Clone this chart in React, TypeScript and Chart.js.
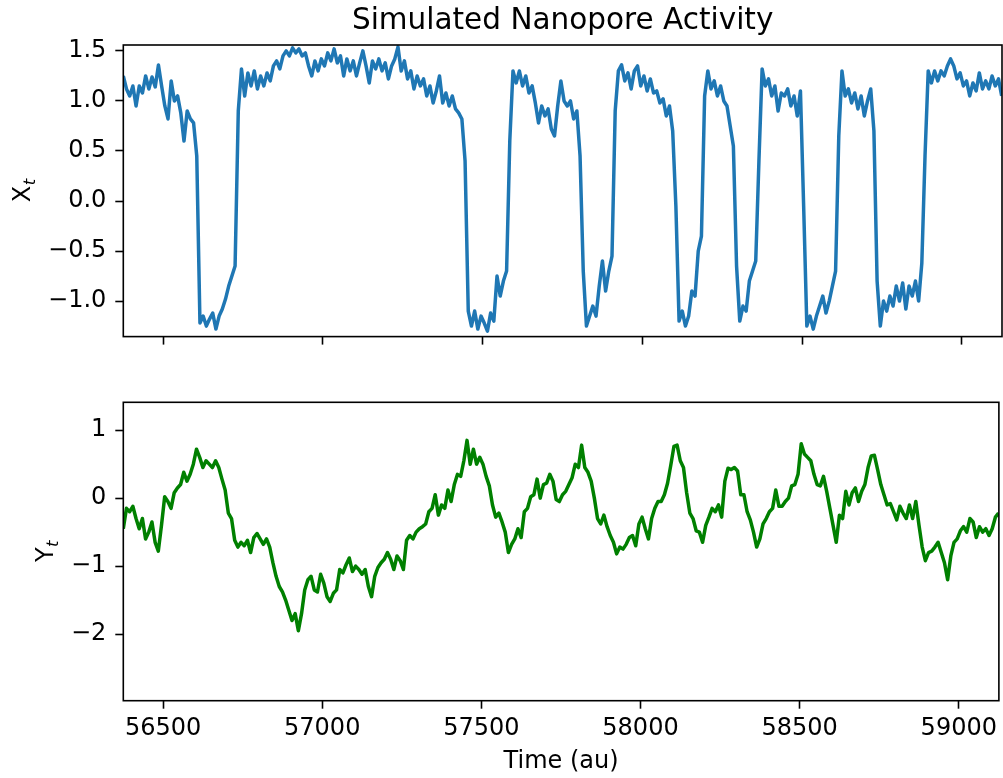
import { useEffect, useRef } from "react";
import { Chart, registerables } from "chart.js";

Chart.register(...registerables);

// ---- data ----
const timeStart = 56375;
const timeStep = 10;
const xRange = [56375, 59126];
const xTickValues = [56500, 57000, 57500, 58000, 58500, 59000];
const topYRange = [-1.355, 1.559];
const topYTicks = [-1.0, -0.5, 0.0, 0.5, 1.0, 1.5];
const bottomYRange = [-2.98, 1.41];
const bottomYTicks = [-2, -1, 0, 1];

const titleText = "Simulated Nanopore Activity";
const xAxisTitle = "Time (au)";

// X_t (blue)
const xSeries = [
  1.25, 1.12, 1.05, 1.15, 0.95, 1.15, 1.08, 1.25, 1.12, 1.24,
  1.14, 1.36, 1.15, 0.95, 0.82, 1.2, 1.0, 1.05, 0.88, 0.6,
  0.9, 0.82, 0.78, 0.45, -1.22, -1.15, -1.25, -1.18, -1.12, -1.28,
  -1.15, -1.08, -0.98, -0.85, -0.75, -0.65, 0.9, 1.32, 1.05, 1.28,
  1.15, 1.3, 1.12, 1.25, 1.15, 1.28, 1.2, 1.35, 1.4, 1.32,
  1.45, 1.5, 1.45, 1.53, 1.48, 1.52, 1.45, 1.48, 1.35, 1.25,
  1.4, 1.3, 1.42, 1.35, 1.48, 1.4, 1.52, 1.38, 1.45, 1.25,
  1.42, 1.3, 1.4, 1.25, 1.38, 1.5, 1.35, 1.18, 1.4, 1.32,
  1.42, 1.3, 1.38, 1.22, 1.35, 1.42, 1.54, 1.3, 1.4, 1.22,
  1.3, 1.12, 1.25, 1.15, 1.22, 1.05, 1.15, 0.98, 1.1, 1.25,
  0.98, 1.08, 0.95, 1.05, 0.92, 0.88, 0.82, 0.4, -1.1, -1.25,
  -1.1, -1.28, -1.15, -1.22, -1.3, -1.12, -1.2, -0.75, -0.95, -0.8,
  -0.7, 0.6, 1.3, 1.18, 1.3, 1.15, 1.25, 1.08, 1.15, 0.98,
  0.78, 0.95, 0.85, 0.92, 0.72, 0.65, 0.95, 1.2, 1.0, 0.95,
  1.0, 0.82, 0.9, 0.45, -0.7, -1.25, -1.15, -1.05, -1.15, -0.85,
  -0.6, -0.9, -0.7, -0.55, 0.9, 1.3, 1.36, 1.2, 1.28, 1.12,
  1.3, 1.35, 1.15, 1.25, 1.1, 1.22, 1.08, 1.1, 0.98, 1.02,
  0.85, 0.95, 0.7, -0.05, -1.2, -1.1, -1.25, -1.15, -0.9, -0.95,
  -0.5, -0.35, 1.05, 1.3, 1.12, 1.2, 1.05, 1.15, 1.0, 0.95,
  0.75, 0.55, -0.65, -1.2, -1.05, -1.1, -0.8, -0.7, -0.6, 0.4,
  1.32, 1.15, 1.22, 1.05, 1.15, 0.9, 1.08, 1.05, 1.12, 0.95,
  1.05, 0.85, 1.1, -0.05, -1.25, -1.15, -1.28, -1.15, -1.05, -0.95,
  -1.12, -1.0, -0.85, -0.7, 0.65, 1.3, 1.05, 1.12, 0.98, 1.08,
  0.92, 1.05, 0.85, 1.0, 1.12, 0.7, -0.8, -1.25, -1.0, -1.1,
  -0.95, -1.05, -0.85, -1.0, -0.82, -1.08, -0.85, -0.95, -0.8, -1.0,
  -0.62, 0.45, 1.3, 1.18, 1.3, 1.2, 1.3, 1.25, 1.35, 1.42,
  1.35, 1.22, 1.28, 1.15, 1.2, 1.05, 1.18, 1.1, 1.28, 1.12,
  1.2, 1.12, 1.25, 1.15, 1.22, 1.05,
];

// Y_t (green)
const ySeries = [
  -0.45, -0.15, -0.2, -0.12, -0.3, -0.45, -0.3, -0.6, -0.5, -0.35,
  -0.65, -0.78, -0.4, 0.02, -0.05, -0.15, 0.08, 0.15, 0.2, 0.38,
  0.25, 0.35, 0.5, 0.72, 0.6, 0.45, 0.55, 0.5, 0.45, 0.55,
  0.45, 0.28, 0.12, -0.22, -0.3, -0.62, -0.72, -0.65, -0.7, -0.62,
  -0.8, -0.58, -0.52, -0.6, -0.68, -0.6, -0.72, -0.95, -1.15, -1.3,
  -1.38, -1.5, -1.65, -1.8, -1.7, -1.95, -1.7, -1.35, -1.2, -1.15,
  -1.35, -1.38, -1.12, -1.25, -1.45, -1.52, -1.4, -1.35, -1.05, -1.1,
  -0.98, -0.88, -1.08, -1.0, -1.05, -1.12, -1.05, -1.3, -1.45, -1.15,
  -1.02, -0.95, -0.9, -0.8, -0.9, -1.05, -0.85, -0.92, -1.05, -0.62,
  -0.55, -0.6, -0.5, -0.45, -0.42, -0.38, -0.2, -0.15, 0.05, -0.25,
  -0.1, -0.15, 0.12, -0.05, 0.2, 0.35, 0.32, 0.55, 0.85, 0.5,
  0.72, 0.5, 0.6, 0.5, 0.32, 0.18, -0.1, -0.28, -0.22, -0.35,
  -0.5, -0.8, -0.68, -0.6, -0.45, -0.58, -0.2, -0.15, 0.02, 0.05,
  0.28, 0.0, 0.2, 0.22, 0.35, 0.25, -0.02, -0.05, 0.05, 0.1,
  0.2, 0.3, 0.5, 0.45, 0.78, 0.45, 0.38, 0.25, 0.0, -0.3,
  -0.38, -0.25, -0.42, -0.55, -0.65, -0.82, -0.72, -0.75, -0.68, -0.58,
  -0.55, -0.7, -0.38, -0.28, -0.45, -0.6, -0.3, -0.15, -0.05, -0.05,
  0.05, 0.22, 0.48, 0.76, 0.78, 0.55, 0.45, 0.08, -0.22, -0.3,
  -0.48, -0.5, -0.65, -0.4, -0.28, -0.15, -0.2, -0.1, -0.28, 0.25,
  0.44, 0.42, 0.45, 0.4, 0.05, 0.05, -0.2, -0.32, -0.5, -0.72,
  -0.6, -0.38, -0.3, -0.2, -0.15, 0.12, -0.12, -0.12, -0.05, 0.0,
  0.18, 0.2, 0.35, 0.8, 0.65, 0.6, 0.55, 0.35, 0.2, 0.18,
  0.32, 0.1, -0.15, -0.4, -0.65, -0.25, -0.3, 0.1, -0.1, 0.08,
  0.15, -0.05, 0.1, 0.2, 0.45, 0.62, 0.63, 0.42, 0.2, 0.05,
  -0.1, -0.08, -0.2, -0.32, -0.12, -0.22, -0.3, -0.1, -0.3, -0.05,
  -0.4, -0.72, -0.92, -0.8, -0.78, -0.72, -0.65, -0.8, -0.95, -1.2,
  -0.85, -0.65, -0.6, -0.48, -0.42, -0.5, -0.3, -0.35, -0.58, -0.42,
  -0.5, -0.45, -0.55, -0.45, -0.28, -0.22,
];

const FONT_FAMILY = "'DejaVu Sans', sans-serif";
const TICK_FONT = { family: FONT_FAMILY, size: 24 };
const MINUS = "\u2212";

const framePlugin = {
  id: "frame",
  afterDatasetsDraw(chart: any) {
    const { ctx, chartArea } = chart;
    ctx.save();
    ctx.strokeStyle = "#000";
    ctx.lineWidth = 1.6;
    ctx.strokeRect(
      chartArea.left,
      chartArea.top,
      chartArea.right - chartArea.left,
      chartArea.bottom - chartArea.top
    );
    ctx.restore();
  },
};

function axisLabelPlugin(main: string, sub: string, cx: number) {
  return {
    id: "axisLabel",
    afterDraw(chart: any) {
      const { ctx, chartArea } = chart;
      const cy = (chartArea.top + chartArea.bottom) / 2;
      ctx.save();
      ctx.translate(cx, cy);
      ctx.rotate(-Math.PI / 2);
      ctx.fillStyle = "#000";
      ctx.textBaseline = "alphabetic";
      ctx.textAlign = "left";
      const mainFont = `24px ${FONT_FAMILY}`;
      const subFont = `italic 16.5px ${FONT_FAMILY}`;
      ctx.font = mainFont;
      const w1 = ctx.measureText(main).width;
      ctx.font = subFont;
      const w2 = ctx.measureText(sub).width;
      const start = -(w1 + w2) / 2;
      ctx.font = mainFont;
      ctx.fillText(main, start, 8.7);
      ctx.font = subFont;
      ctx.fillText(sub, start + w1 + 0.5, 8.7 + 5);
      ctx.restore();
    },
  };
}

function gridOpts() {
  return {
    drawOnChartArea: false,
    drawTicks: true,
    tickLength: 8,
    tickWidth: 1.6,
    tickColor: "#000",
    color: "#000",
  };
}

function xScale(showLabels: boolean, height: number) {
  return {
    type: "linear" as const,
    min: xRange[0],
    max: xRange[1],
    afterBuildTicks: (s: any) => {
      s.ticks = xTickValues.map((v) => ({ value: v }));
    },
    afterFit: (s: any) => {
      s.height = height;
    },
    grid: gridOpts(),
    border: { display: false },
    ticks: {
      display: showLabels,
      color: "#000",
      font: TICK_FONT,
      padding: 6,
      maxRotation: 0,
      autoSkip: false,
      callback: (v: any) => String(v),
    },
    title: {
      display: showLabels,
      text: xAxisTitle,
      color: "#000",
      font: TICK_FONT,
      padding: { top: 0, bottom: 2 },
    },
  };
}

function yScale(range: number[], tickVals: number[], decimals: number) {
  return {
    type: "linear" as const,
    min: range[0],
    max: range[1],
    afterBuildTicks: (s: any) => {
      s.ticks = tickVals.map((v) => ({ value: v }));
    },
    afterFit: (s: any) => {
      s.width = 123.3;
    },
    grid: gridOpts(),
    border: { display: false },
    ticks: {
      color: "#000",
      font: TICK_FONT,
      padding: 9,
      autoSkip: false,
      callback: (v: any) => {
        const n = Number(v);
        const s = Math.abs(n).toFixed(decimals);
        return n < 0 ? MINUS + s : s;
      },
    },
  };
}

export default function App() {
  const topRef = useRef<HTMLCanvasElement>(null);
  const botRef = useRef<HTMLCanvasElement>(null);

  useEffect(() => {
    const times = xSeries.map((_, i) => timeStart + i * timeStep);
    const topData = times.map((t, i) => ({ x: t, y: xSeries[i] }));
    const botData = times.map((t, i) => ({ x: t, y: ySeries[i] }));

    const top = new Chart(topRef.current as HTMLCanvasElement, {
      type: "line",
      data: {
        datasets: [
          {
            data: topData,
            borderColor: "#1f77b4",
            borderWidth: 3.5,
            pointRadius: 0,
            tension: 0,
            fill: false,
            clip: 0,
            borderJoinStyle: "round",
          } as any,
        ],
      },
      options: {
        responsive: false,
        animation: false,
        devicePixelRatio: 1,
        layout: { padding: { left: 0, right: 1, top: 0, bottom: 0 }, autoPadding: false },
        plugins: {
          legend: { display: false },
          tooltip: { enabled: false },
          title: {
            display: true,
            fullSize: false,
            text: titleText,
            color: "#000",
            font: { family: FONT_FAMILY, size: 29.5, weight: "normal", lineHeight: 1.2 },
            padding: { top: 3.5, bottom: 6.1 },
          },
        },
        scales: {
          x: xScale(false, 17),
          y: yScale(topYRange, topYTicks, 1),
        } as any,
      },
      plugins: [framePlugin, axisLabelPlugin("X", "t", 21.5)],
    });

    const bot = new Chart(botRef.current as HTMLCanvasElement, {
      type: "line",
      data: {
        datasets: [
          {
            data: botData,
            borderColor: "#008000",
            borderWidth: 3.5,
            pointRadius: 0,
            tension: 0,
            fill: false,
            clip: 0,
            borderJoinStyle: "round",
          } as any,
        ],
      },
      options: {
        responsive: false,
        animation: false,
        devicePixelRatio: 1,
        layout: { padding: { left: 0, right: 1, top: 42.3, bottom: 0 }, autoPadding: false },
        plugins: {
          legend: { display: false },
          tooltip: { enabled: false },
        },
        scales: {
          x: xScale(true, 77.3),
          y: yScale(bottomYRange, bottomYTicks, 0),
        } as any,
      },
      plugins: [framePlugin, axisLabelPlugin("Y", "t", 44)],
    });

    return () => {
      top.destroy();
      bot.destroy();
    };
  }, []);

  return (
    <div
      style={{
        position: "absolute",
        left: 0,
        top: 0,
        width: 1003,
        height: 778,
        background: "#fff",
        overflow: "hidden",
      }}
    >
      <canvas
        ref={topRef}
        width={1003}
        height={360}
        style={{ position: "absolute", left: 0, top: 0, width: 1003, height: 360 }}
      />
      <canvas
        ref={botRef}
        width={1003}
        height={418}
        style={{ position: "absolute", left: 0, top: 360, width: 1003, height: 418 }}
      />
    </div>
  );
}
